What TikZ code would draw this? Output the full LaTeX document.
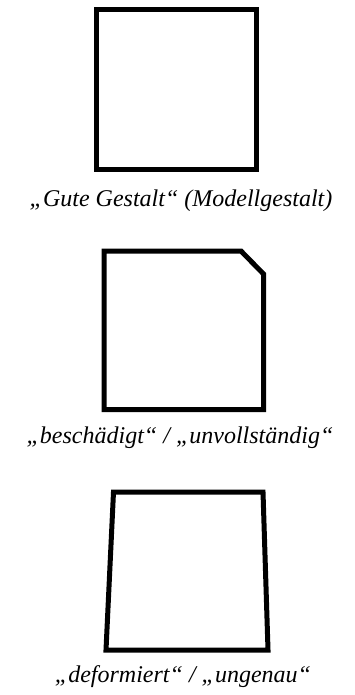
\documentclass[tikz,border=0pt]{standalone}
\usepackage{fontspec}
\setmainfont{Liberation Serif}
\usetikzlibrary{positioning}
\tikzset{
  gestalt/.style={draw=black, line width=5pt, fill=white, line join=miter},
  caption/.style={font=\fontsize{24}{28}\selectfont\itshape, inner sep=0pt}
}
\begin{document}
\begin{tikzpicture}[x=1pt, y=-1pt]
    \useasboundingbox (0,0) rectangle (355,695);
    % gute Gestalt
    \draw[gestalt] (96,9.5) rectangle (256,169.5);
    \node[caption] (gut) at (181,201) {„Gute Gestalt“ (Modellgestalt)};
    % beschaedigt
    \draw[gestalt] (104,251) -- (241,251) -- (263.5,274) -- (263.5,409.5) -- (104,409.5) -- cycle;
    \node[caption] (besch) at (180,438) {„beschädigt“ / „unvollständig“};
    % deformiert
    \draw[gestalt] (113.5,492) -- (263,492) -- (268,650) -- (106,650) -- cycle;
    \node[caption] (deform) at (183,677) {„deformiert“ / „ungenau“};
  \end{tikzpicture}
\end{document}
